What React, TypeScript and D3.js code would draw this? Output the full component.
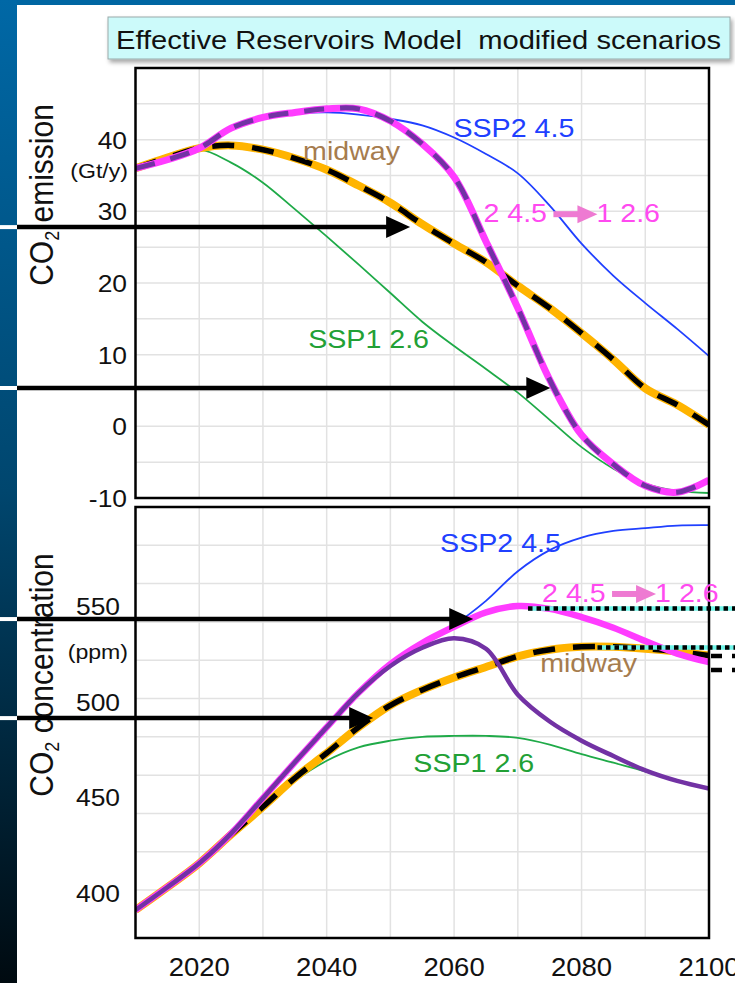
import React from 'react';
import * as d3 from 'd3';

const W = 735;
const H = 983;
const FONT = "'Liberation Sans', Arial, Helvetica, sans-serif";

// years sampled every 5 years
const years = [2010, 2015, 2020, 2025, 2030, 2035, 2040, 2045, 2050, 2055, 2060, 2065, 2070, 2075, 2080, 2085, 2090, 2095, 2100];

// top panel: CO2 emission (Gt/y)
const emisSSP2 = [36.0, 37.3, 38.8, 41.5, 43.0, 43.6, 43.8, 43.5, 42.9, 42.0, 40.3, 38.0, 35.3, 30.8, 25.5, 21.0, 17.2, 13.6, 9.8];
const emisSSP1 = [36.0, 37.3, 38.6, 36.8, 34.0, 30.3, 26.5, 22.6, 18.6, 14.6, 11.2, 8.0, 4.7, 0.9, -2.9, -5.9, -8.0, -9.0, -9.3];
const emisMidway = [36.0, 37.5, 38.8, 39.2, 38.6, 37.4, 35.8, 33.6, 31.2, 28.2, 25.5, 22.9, 19.6, 16.5, 13.0, 9.3, 5.3, 3.0, 0.2];
const emisSwitch = [36.0, 37.2, 38.8, 41.6, 43.1, 43.8, 44.3, 44.3, 42.6, 39.4, 34.8, 25.8, 16.5, 6.5, -1.2, -5.3, -8.3, -9.2, -7.5];

// bottom panel: CO2 concentration (ppm)
const concSSP2 = [389.6, 401.5, 414, 429.5, 448, 466.7, 485, 503, 518.5, 529.5, 538.5, 551, 566.5, 577.5, 584, 587.5, 589, 590.3, 590.5];
const concSSP1 = [389.6, 401.5, 414, 428.5, 443, 457, 467.5, 474.5, 478, 480, 480.5, 480.5, 479.5, 476, 471, 466.5, 462, 457, 453];
const concMidway = [389.6, 401.5, 414, 429, 443.5, 458.5, 471.5, 485, 496.5, 504.5, 511, 516.5, 522, 525.5, 527, 527, 526, 524.5, 522.5];
const concSwitch = [389.6, 401.5, 414, 429.5, 448, 466.7, 485, 503, 518, 529, 537.5, 545, 548.3, 546.8, 542.5, 537, 530, 523.5, 519];
const concSwitchEarly = [389.6, 401.5, 414, 429.5, 448, 466.7, 485, 503, 517, 526.5, 531.5, 526, 502, 488, 478, 470, 462.5, 457, 453];

const emisTicks = [-10, 0, 10, 20, 30, 40];
const concTicks = [400, 450, 500, 550];
const yearTicks = [2020, 2040, 2060, 2080, 2100];

// annotation arrows, in data units: [value, year of the tip]
const emisArrows = [[27.8, 2053.1], [5.35, 2075.1]];
const concArrows = [[541.5, 2063], [489.8, 2047.3]];

const x = d3.scaleLinear().domain([2010, 2100]).range([135.5, 709]);
const yTop = d3.scaleLinear().domain([-10, 50]).range([498, 68]);
const yBot = d3.scaleLinear().domain([375, 600]).range([938, 507]);

const mkLine = (y: d3.ScaleLinear<number, number>) =>
  d3.line<number>()
    .x((_, i) => x(years[i]))
    .y(d => y(d))
    .curve(d3.curveCatmullRom.alpha(0.5));

const lineTop = mkLine(yTop);
const lineBot = mkLine(yBot);

const C = {
  ssp2: '#2040ff',
  ssp1: '#1faa48',
  orange: '#ffb400',
  magenta: '#ff3cff',
  purple: '#7232a4',
  midLabel: '#a67c4e',
  swLabel: '#ff4af0',
  swArrow: '#ee7ad2',
  ssp1Label: '#22a035',
  grid: '#e2e2e2',
};

// text slightly stretched horizontally, like the screenshot
const T = ({ x: tx, y: ty, size, fill = '#111', anchor = 'start', children }: any) => (
  <text
    transform={`translate(${tx},${ty}) scale(1.1,1)`}
    fontSize={size}
    fill={fill}
    textAnchor={anchor}
    fontFamily={FONT}
    style={{ whiteSpace: 'pre' }}
  >
    {children}
  </text>
);

const YTitle = ({ cy, text }: { cy: number; text: string }) => (
  <text
    transform={`translate(53,${cy}) rotate(-90) scale(1,1.1)`}
    fontSize={30}
    fill="#111"
    textAnchor="middle"
    fontFamily={FONT}
  >
    CO<tspan fontSize={18} dy={5}>2</tspan>
    <tspan dy={-5}> {text}</tspan>
  </text>
);

const Arrow = ({ y, tip }: { y: number; tip: number }) => (
  <g>
    <line x1={0} x2={17} y1={y} y2={y} stroke="#fff" strokeWidth={4} />
    <line x1={17} x2={tip - 18} y1={y} y2={y} stroke="#000" strokeWidth={4.5} />
    <polygon points={`${tip - 24},${y - 11} ${tip},${y} ${tip - 24},${y + 11}`} fill="#000" />
  </g>
);

const SwitchLabel = ({ xs, y, ay }: { xs: number; y: number; ay: number }) => {
  const a0 = xs + 70;
  return (
    <g>
      <T x={xs} y={y} size={26} fill={C.swLabel}>2 4.5</T>
      <line x1={a0} x2={a0 + 26} y1={ay} y2={ay} stroke={C.swArrow} strokeWidth={6} />
      <polygon points={`${a0 + 24},${ay - 9} ${a0 + 44},${ay} ${a0 + 24},${ay + 9}`} fill={C.swArrow} />
      <T x={a0 + 43} y={y} size={26} fill={C.swLabel}>1 2.6</T>
    </g>
  );
};

const Frame = ({ y }: { y: d3.ScaleLinear<number, number> }) => {
  const [y0, y1] = y.range();
  return (
    <g>
      <rect x={x(2010)} y={y1} width={x(2100) - x(2010)} height={y0 - y1} fill="#fff" />
      {x.ticks(9).slice(1, -1).map(t => (
        <line key={'v' + t} x1={x(t)} x2={x(t)} y1={y1} y2={y0} stroke={C.grid} strokeWidth={1.5} />
      ))}
      {y.ticks(9).slice(1, -1).map(t => (
        <line key={'h' + t} x1={x(2010)} x2={x(2100)} y1={y(t)} y2={y(t)} stroke={C.grid} strokeWidth={1.5} />
      ))}
    </g>
  );
};

const FrameBorder = ({ y }: { y: d3.ScaleLinear<number, number> }) => {
  const [y0, y1] = y.range();
  return (
    <rect x={x(2010)} y={y1} width={x(2100) - x(2010)} height={y0 - y1} fill="none" stroke="#000" strokeWidth={2.5} />
  );
};

export default function App() {
  return (
    <svg
      width={W}
      height={H}
      viewBox={`0 0 ${W} ${H}`}
      style={{ position: 'absolute', left: 0, top: 0, background: '#fff' }}
    >
      <defs>
        <linearGradient id="side" x1="0" y1="0" x2="0" y2="1">
          <stop offset="0" stopColor="#0068a6" />
          <stop offset="0.5" stopColor="#00466e" />
          <stop offset="1" stopColor="#000a10" />
        </linearGradient>
        <filter id="shadow" x="-5%" y="-20%" width="115%" height="160%">
          <feDropShadow dx={2} dy={3} stdDeviation={2} floodColor="#000" floodOpacity={0.35} />
        </filter>
        <clipPath id="clipTop">
          <rect x={x(2010)} y={68} width={x(2100) - x(2010)} height={430} />
        </clipPath>
        <clipPath id="clipBot">
          <rect x={x(2010)} y={507} width={x(2100) - x(2010)} height={431} />
        </clipPath>
      </defs>

      {/* slide background */}
      <rect x={0} y={0} width={W} height={H} fill="#fff" />
      <rect x={0} y={0} width={W} height={5} fill="#0066a2" />
      <rect x={0} y={0} width={17} height={H} fill="url(#side)" />

      {/* ---------- top panel: emission ---------- */}
      <Frame y={yTop} />
      <g clipPath="url(#clipTop)" fill="none">
        <path d={lineTop(emisSSP2) || ''} stroke={C.ssp2} strokeWidth={1.8} />
        <path d={lineTop(emisSSP1) || ''} stroke={C.ssp1} strokeWidth={1.8} />
        <path d={lineTop(emisMidway) || ''} stroke={C.orange} strokeWidth={8} />
        <path d={lineTop(emisMidway) || ''} stroke="#000" strokeWidth={5.5} strokeDasharray="22 18" />
        <path d={lineTop(emisSwitch) || ''} stroke={C.magenta} strokeWidth={7} />
        <path d={lineTop(emisSwitch) || ''} stroke={C.purple} strokeWidth={5} strokeDasharray="20 16" />
      </g>
      <FrameBorder y={yTop} />

      {emisTicks.map(t => (
        <T key={t} x={127} y={yTop(t) + 9} size={24} anchor="end">{t}</T>
      ))}
      <T x={128} y={yTop(40) + 38} size={21} anchor="end">(Gt/y)</T>
      <YTitle cy={195} text="emission" />

      <T x={x(2059.9)} y={yTop(40.4)} size={26} fill={C.ssp2}>SSP2 4.5</T>
      <T x={x(2036.3)} y={yTop(37.2)} size={26} fill={C.midLabel}>midway</T>
      <SwitchLabel xs={x(2064.6)} y={yTop(28.5)} ay={yTop(29.6)} />
      <T x={x(2037.1)} y={yTop(10.9)} size={26} fill={C.ssp1Label}>SSP1 2.6</T>

      {emisArrows.map(([v, yr], i) => (
        <Arrow key={i} y={yTop(v)} tip={x(yr)} />
      ))}

      {/* ---------- bottom panel: concentration ---------- */}
      <Frame y={yBot} />
      <g clipPath="url(#clipBot)" fill="none">
        <path d={lineBot(concSSP2) || ''} stroke={C.ssp2} strokeWidth={1.8} />
        <path d={lineBot(concSSP1) || ''} stroke={C.ssp1} strokeWidth={1.8} />
        <path d={lineBot(concMidway) || ''} stroke={C.orange} strokeWidth={8} />
        <path d={lineBot(concMidway) || ''} stroke="#000" strokeWidth={5.5} strokeDasharray="22 18" />
        <path d={lineBot(concSwitch) || ''} stroke={C.magenta} strokeWidth={6.5} />
        <path d={lineBot(concSwitchEarly) || ''} stroke={C.purple} strokeWidth={4.5} />
      </g>

      {/* dotted level markers running off to the right */}
      {[[547, 2071.6], [526.6, 2082.5]].map(([v, yr], i) => (
        <g key={i}>
          <line x1={x(yr)} x2={W} y1={yBot(v)} y2={yBot(v)} stroke="#6ff5e8" strokeWidth={4.5} />
          <line x1={x(yr)} x2={W} y1={yBot(v)} y2={yBot(v)} stroke="#000" strokeWidth={4.5} strokeDasharray="4.5 4" />
        </g>
      ))}
      {[522.2, 514.9].map(v => (
        <line key={v} x1={x(2100) + 2} x2={W} y1={yBot(v)} y2={yBot(v)} stroke="#000" strokeWidth={4.5} strokeDasharray="11 10" />
      ))}
      <FrameBorder y={yBot} />

      <YTitle cy={675} text="concentration" />
      {concTicks.map(t => (
        <T key={t} x={120} y={yBot(t) + 12} size={24} anchor="end">{t}</T>
      ))}
      <T x={128} y={yBot(525) + 8} size={21} anchor="end">(ppm)</T>
      {yearTicks.map(t => (
        <T key={t} x={x(t)} y={976} size={25} anchor="middle">{t}</T>
      ))}

      <T x={x(2057.8)} y={yBot(576.5)} size={26} fill={C.ssp2}>SSP2 4.5</T>
      <SwitchLabel xs={x(2073.8)} y={yBot(550.4)} ay={yBot(554.6)} />
      <T x={x(2073.5)} y={yBot(513.9)} size={26} fill={C.midLabel}>midway</T>
      <T x={x(2053.6)} y={yBot(461.7)} size={26} fill={C.ssp1Label}>SSP1 2.6</T>

      {concArrows.map(([v, yr], i) => (
        <Arrow key={i} y={yBot(v)} tip={x(yr)} />
      ))}

      {/* title box */}
      <rect x={108} y={17} width={622} height={42} fill="#ccfafa" stroke="#9aa" strokeWidth={1} filter="url(#shadow)" />
      <T x={116} y={49} size={26.5}>{'Effective Reservoirs Model  modified scenarios'}</T>
    </svg>
  );
}
